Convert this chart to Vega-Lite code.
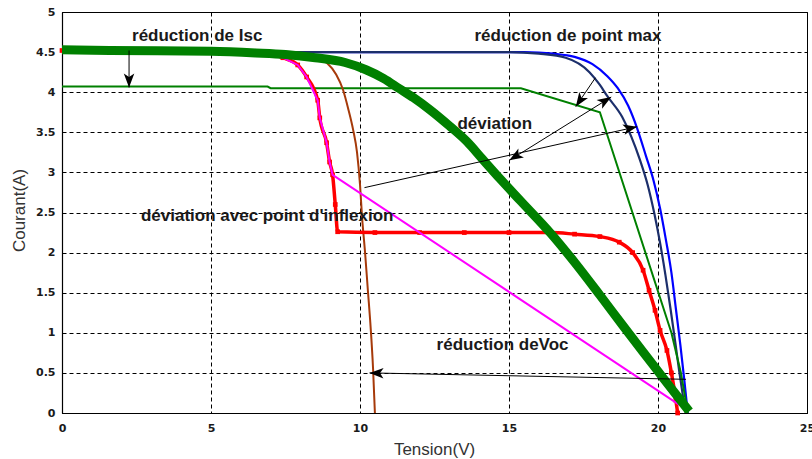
{
  "$schema": "https://vega.github.io/schema/vega-lite/v6.json",
  "width": 745,
  "height": 401,
  "autosize": {"type": "none"},
  "padding": {"left": 62, "top": 12, "right": 5, "bottom": 46},
  "background": "white",
  "config": {
    "view": {"stroke": "#000", "strokeWidth": 1},
    "axis": {
      "grid": true,
      "gridColor": "#000",
      "gridDash": [4, 3],
      "gridOpacity": 1,
      "gridWidth": 1,
      "ticks": false,
      "domainColor": "#000",
      "domainWidth": 1.2,
      "labelFont": "DejaVu Sans",
      "labelFontWeight": "bold",
      "labelFontSize": 11,
      "labelColor": "#1a1a1a",
      "labelFlush": false,
      "labelOverlap": false,
      "labelBound": false,
      "titleFont": "Liberation Sans",
      "titleFontWeight": "normal",
      "titleFontSize": 17,
      "titleColor": "#333"
    }
  },
  "datasets": {
    "iv": [
      {"s": "ref", "V": 0, "I": 4.5}, {"s": "ref", "V": 15.5, "I": 4.5}, {"s": "ref", "V": 16.5, "I": 4.48}, {"s": "ref", "V": 17.2, "I": 4.44}, {"s": "ref", "V": 17.8, "I": 4.35}, {"s": "ref", "V": 18.3, "I": 4.2}, {"s": "ref", "V": 18.65, "I": 4.05}, {"s": "ref", "V": 19.0, "I": 3.83}, {"s": "ref", "V": 19.3, "I": 3.55}, {"s": "ref", "V": 19.6, "I": 3.2}, {"s": "ref", "V": 19.85, "I": 2.9}, {"s": "ref", "V": 20.07, "I": 2.55}, {"s": "ref", "V": 20.27, "I": 2.15}, {"s": "ref", "V": 20.45, "I": 1.75}, {"s": "ref", "V": 20.6, "I": 1.3}, {"s": "ref", "V": 20.75, "I": 0.85}, {"s": "ref", "V": 20.88, "I": 0.42}, {"s": "ref", "V": 21.0, "I": 0},

      {"s": "pmax", "V": 0, "I": 4.5}, {"s": "pmax", "V": 15, "I": 4.5}, {"s": "pmax", "V": 16, "I": 4.48}, {"s": "pmax", "V": 16.9, "I": 4.43}, {"s": "pmax", "V": 17.7, "I": 4.25}, {"s": "pmax", "V": 18.05, "I": 4.09}, {"s": "pmax", "V": 18.3, "I": 3.95}, {"s": "pmax", "V": 18.8, "I": 3.69}, {"s": "pmax", "V": 19.1, "I": 3.45}, {"s": "pmax", "V": 19.4, "I": 3.15}, {"s": "pmax", "V": 19.65, "I": 2.85}, {"s": "pmax", "V": 19.87, "I": 2.5}, {"s": "pmax", "V": 20.07, "I": 2.12}, {"s": "pmax", "V": 20.25, "I": 1.72}, {"s": "pmax", "V": 20.42, "I": 1.3}, {"s": "pmax", "V": 20.58, "I": 0.88}, {"s": "pmax", "V": 20.72, "I": 0.5}, {"s": "pmax", "V": 20.84, "I": 0.2}, {"s": "pmax", "V": 20.93, "I": 0},

      {"s": "isc", "V": 0, "I": 4.07}, {"s": "isc", "V": 6.9, "I": 4.07}, {"s": "isc", "V": 7.0, "I": 4.05}, {"s": "isc", "V": 15.4, "I": 4.05}, {"s": "isc", "V": 18.05, "I": 3.75}, {"s": "isc", "V": 20.45, "I": 1.0}, {"s": "isc", "V": 20.77, "I": 0.5}, {"s": "isc", "V": 21.0, "I": 0},

      {"s": "voc", "V": 0, "I": 4.5}, {"s": "voc", "V": 7.5, "I": 4.49}, {"s": "voc", "V": 8.3, "I": 4.46}, {"s": "voc", "V": 8.9, "I": 4.36}, {"s": "voc", "V": 9.2, "I": 4.22}, {"s": "voc", "V": 9.43, "I": 4.03}, {"s": "voc", "V": 9.6, "I": 3.8}, {"s": "voc", "V": 9.77, "I": 3.53}, {"s": "voc", "V": 9.9, "I": 3.25}, {"s": "voc", "V": 10.0, "I": 2.85}, {"s": "voc", "V": 10.07, "I": 2.44}, {"s": "voc", "V": 10.17, "I": 2.0}, {"s": "voc", "V": 10.27, "I": 1.5}, {"s": "voc", "V": 10.34, "I": 1.16}, {"s": "voc", "V": 10.44, "I": 0.54}, {"s": "voc", "V": 10.5, "I": 0},

      {"s": "inflexion", "V": 0, "I": 4.52}, {"s": "inflexion", "V": 6.5, "I": 4.5}, {"s": "inflexion", "V": 7.41, "I": 4.43}, {"s": "inflexion", "V": 7.91, "I": 4.34}, {"s": "inflexion", "V": 8.21, "I": 4.19}, {"s": "inflexion", "V": 8.58, "I": 3.9}, {"s": "inflexion", "V": 8.65, "I": 3.68}, {"s": "inflexion", "V": 8.88, "I": 3.37}, {"s": "inflexion", "V": 8.98, "I": 3.13}, {"s": "inflexion", "V": 9.08, "I": 2.97}, {"s": "inflexion", "V": 9.17, "I": 2.6}, {"s": "inflexion", "V": 9.25, "I": 2.26}, {"s": "inflexion", "V": 10.5, "I": 2.25}, {"s": "inflexion", "V": 12.0, "I": 2.25}, {"s": "inflexion", "V": 13.5, "I": 2.25}, {"s": "inflexion", "V": 15.0, "I": 2.25}, {"s": "inflexion", "V": 16.4, "I": 2.25}, {"s": "inflexion", "V": 17.2, "I": 2.23}, {"s": "inflexion", "V": 18.05, "I": 2.2}, {"s": "inflexion", "V": 18.7, "I": 2.13}, {"s": "inflexion", "V": 19.15, "I": 2.0}, {"s": "inflexion", "V": 19.5, "I": 1.78}, {"s": "inflexion", "V": 19.7, "I": 1.53}, {"s": "inflexion", "V": 19.9, "I": 1.28}, {"s": "inflexion", "V": 20.07, "I": 1.03}, {"s": "inflexion", "V": 20.3, "I": 0.78}, {"s": "inflexion", "V": 20.45, "I": 0.5}, {"s": "inflexion", "V": 20.6, "I": 0.16}, {"s": "inflexion", "V": 20.66, "I": 0},

      {"s": "deviation", "V": 0, "I": 4.5}, {"s": "deviation", "V": 6.5, "I": 4.5}, {"s": "deviation", "V": 7.41, "I": 4.43}, {"s": "deviation", "V": 7.91, "I": 4.34}, {"s": "deviation", "V": 8.21, "I": 4.19}, {"s": "deviation", "V": 8.58, "I": 3.9}, {"s": "deviation", "V": 8.65, "I": 3.68}, {"s": "deviation", "V": 8.88, "I": 3.37}, {"s": "deviation", "V": 8.98, "I": 3.13}, {"s": "deviation", "V": 9.08, "I": 2.97}, {"s": "deviation", "V": 20.64, "I": 0.12}, {"s": "deviation", "V": 20.97, "I": 0.05},

      {"s": "ombrage", "V": 0, "I": 4.53}, {"s": "ombrage", "V": 1.6, "I": 4.52}, {"s": "ombrage", "V": 5, "I": 4.51}, {"s": "ombrage", "V": 6.5, "I": 4.49}, {"s": "ombrage", "V": 7.5, "I": 4.47}, {"s": "ombrage", "V": 8.5, "I": 4.43}, {"s": "ombrage", "V": 9.5, "I": 4.37}, {"s": "ombrage", "V": 10.2, "I": 4.28}, {"s": "ombrage", "V": 10.8, "I": 4.17}, {"s": "ombrage", "V": 11.3, "I": 4.05}, {"s": "ombrage", "V": 11.8, "I": 3.93}, {"s": "ombrage", "V": 12.35, "I": 3.78}, {"s": "ombrage", "V": 13.0, "I": 3.58}, {"s": "ombrage", "V": 13.6, "I": 3.38}, {"s": "ombrage", "V": 14.1, "I": 3.17}, {"s": "ombrage", "V": 14.7, "I": 2.92}, {"s": "ombrage", "V": 15.4, "I": 2.64}, {"s": "ombrage", "V": 16.4, "I": 2.24}, {"s": "ombrage", "V": 17.2, "I": 1.88}, {"s": "ombrage", "V": 18.05, "I": 1.47}, {"s": "ombrage", "V": 18.8, "I": 1.1}, {"s": "ombrage", "V": 19.5, "I": 0.76}, {"s": "ombrage", "V": 20.0, "I": 0.52}, {"s": "ombrage", "V": 20.5, "I": 0.28}, {"s": "ombrage", "V": 21.05, "I": 0.02}
    ],
    "arrows": [
      {"V": 2.25, "I": 4.52, "V2": 2.25, "I2": 4.06, "both": false},
      {"V": 17.9, "I": 4.18, "V2": 17.24, "I2": 3.82, "both": false},
      {"V": 10.15, "I": 2.81, "V2": 19.3, "I2": 3.57, "both": false},
      {"V": 15.01, "I": 3.15, "V2": 18.43, "I2": 3.94, "both": true},
      {"V": 20.94, "I": 0.42, "V2": 10.32, "I2": 0.5, "both": false}
    ],
    "notes": [
      {"t": "réduction de Isc", "V": 2.35, "I": 4.7},
      {"t": "réduction de point max", "V": 13.84, "I": 4.7},
      {"t": "déviation", "V": 13.27, "I": 3.6},
      {"t": "déviation avec point d'inflexion", "V": 2.65, "I": 2.46},
      {"t": "réduction deVoc", "V": 12.57, "I": 0.85}
    ]
  },
  "encoding": {
    "x": {
      "field": "V",
      "type": "quantitative",
      "scale": {"domain": [0, 25], "nice": false, "zero": false},
      "axis": {
        "values": [0, 5, 10, 15, 20, 25],
        "format": "~g",
        "labelPadding": 9,
        "title": "Tension(V)",
        "titleX": 372,
        "titleY": 36,
        "titleAlign": "center",
        "titleBaseline": "middle"
      }
    },
    "y": {
      "field": "I",
      "type": "quantitative",
      "scale": {"domain": [0, 5], "nice": false, "zero": false},
      "axis": {
        "values": [0, 0.5, 1, 1.5, 2, 2.5, 3, 3.5, 4, 4.5, 5],
        "format": "~g",
        "labelPadding": 7,
        "title": "Courant(A)",
        "titleAngle": 270,
        "titleX": -43,
        "titleY": 198,
        "titleAlign": "center",
        "titleBaseline": "middle"
      }
    }
  },
  "layer": [
    {
      "data": {"name": "iv"},
      "transform": [{"filter": "datum.s === 'ref'"}],
      "mark": {"type": "line", "color": "#0000ff", "strokeWidth": 2.2, "interpolate": "monotone", "clip": true}
    },
    {
      "data": {"name": "iv"},
      "transform": [{"filter": "datum.s === 'pmax'"}],
      "mark": {"type": "line", "color": "#1c2f6b", "strokeWidth": 2.2, "interpolate": "monotone", "clip": true}
    },
    {
      "data": {"name": "iv"},
      "transform": [{"filter": "datum.s === 'isc'"}],
      "mark": {"type": "line", "color": "#008000", "strokeWidth": 2, "clip": true}
    },
    {
      "data": {"name": "iv"},
      "transform": [{"filter": "datum.s === 'voc'"}],
      "mark": {"type": "line", "color": "#a63a0a", "strokeWidth": 2, "interpolate": "monotone", "clip": true}
    },
    {
      "data": {"name": "iv"},
      "transform": [{"filter": "datum.s === 'inflexion'"}],
      "mark": {"type": "line", "color": "#ff0000", "strokeWidth": 3.5, "interpolate": "monotone", "clip": true}
    },
    {
      "data": {"name": "iv"},
      "transform": [{"filter": "datum.s === 'inflexion'"}],
      "mark": {"type": "point", "shape": "square", "filled": true, "color": "#ff0000", "size": 22, "opacity": 1, "clip": false}
    },
    {
      "data": {"name": "iv"},
      "transform": [{"filter": "datum.s === 'deviation'"}],
      "mark": {"type": "line", "color": "#ff00ff", "strokeWidth": 2, "clip": true}
    },
    {
      "data": {"name": "iv"},
      "transform": [{"filter": "datum.s === 'ombrage'"}],
      "mark": {"type": "line", "color": "#008000", "strokeWidth": 9, "strokeCap": "butt", "interpolate": "monotone", "clip": true}
    },
    {
      "data": {"name": "arrows"},
      "mark": {"type": "rule", "color": "#000", "strokeWidth": 1},
      "encoding": {
        "x2": {"field": "V2"},
        "y2": {"field": "I2"}
      }
    },
    {
      "data": {"name": "arrows"},
      "transform": [
        {"calculate": "atan2((datum.V2 - datum.V) * 29.8, (datum.I2 - datum.I) * 80.2) * 180 / PI", "as": "ang"}
      ],
      "mark": {
        "type": "point",
        "shape": "M0,0L0.75,2L0,1.5L-0.75,2Z",
        "filled": true,
        "color": "#000",
        "opacity": 1,
        "size": 196,
        "strokeWidth": 0
      },
      "encoding": {
        "x": {"field": "V2", "type": "quantitative", "title": "Tension(V)"},
        "y": {"field": "I2", "type": "quantitative", "title": "Courant(A)"},
        "angle": {"field": "ang", "type": "quantitative", "scale": null}
      }
    },
    {
      "data": {"name": "arrows"},
      "transform": [
        {"filter": "datum.both"},
        {"calculate": "atan2((datum.V - datum.V2) * 29.8, (datum.I - datum.I2) * 80.2) * 180 / PI", "as": "ang"}
      ],
      "mark": {
        "type": "point",
        "shape": "M0,0L0.75,2L0,1.5L-0.75,2Z",
        "filled": true,
        "color": "#000",
        "opacity": 1,
        "size": 196,
        "strokeWidth": 0
      },
      "encoding": {
        "angle": {"field": "ang", "type": "quantitative", "scale": null}
      }
    },
    {
      "data": {"name": "notes"},
      "mark": {
        "type": "text",
        "align": "left",
        "baseline": "middle",
        "font": "Liberation Sans",
        "fontWeight": "bold",
        "fontSize": 17,
        "color": "#1a1a1a"
      },
      "encoding": {
        "text": {"field": "t", "type": "nominal"}
      }
    }
  ]
}
